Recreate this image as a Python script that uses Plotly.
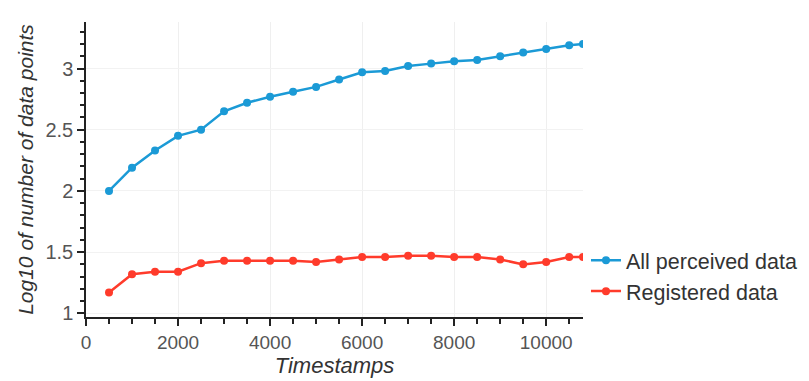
import plotly.graph_objects as go

timestamps = [500, 1000, 1500, 2000, 2500, 3000, 3500, 4000, 4500, 5000, 5500,
              6000, 6500, 7000, 7500, 8000, 8500, 9000, 9500, 10000, 10500, 10800]
all_perceived = [2.00, 2.19, 2.33, 2.45, 2.50, 2.65, 2.72, 2.77, 2.81, 2.85, 2.91,
                 2.97, 2.98, 3.02, 3.04, 3.06, 3.07, 3.10, 3.13, 3.16, 3.19, 3.20]
registered = [1.17, 1.32, 1.34, 1.34, 1.41, 1.43, 1.43, 1.43, 1.43, 1.42, 1.44,
              1.46, 1.46, 1.47, 1.47, 1.46, 1.46, 1.44, 1.40, 1.42, 1.46, 1.46]

BLUE = "#1b9ad6"
RED = "#ff3b2b"
FONT = "Liberation Sans, Arial, sans-serif"

fig = go.Figure()
fig.add_trace(go.Scatter(x=timestamps, y=all_perceived, mode="lines+markers",
                         name="All perceived data",
                         line=dict(color=BLUE, width=2.5),
                         marker=dict(color=BLUE, size=8)))
fig.add_trace(go.Scatter(x=timestamps, y=registered, mode="lines+markers",
                         name="Registered data",
                         line=dict(color=RED, width=2.5),
                         marker=dict(color=RED, size=8)))

# page body has an 8px default margin, so the figure is sized/offset to compensate
fig.update_layout(
    width=801, height=373,
    margin=dict(l=78, r=226, t=14, b=64, autoexpand=False),
    paper_bgcolor="white", plot_bgcolor="white",
    font=dict(family=FONT, color="#444", size=19),
    legend=dict(x=1.006, y=0.14, xanchor="left", yanchor="middle",
                font=dict(size=21.5, color="#333"), bgcolor="rgba(0,0,0,0)",
                tracegroupgap=0, itemwidth=30),
    showlegend=True,
)
fig.update_xaxes(
    range=[0, 10800], dtick=2000, tick0=0, tickformat="d",
    showline=True, linecolor="#222", linewidth=1.5,
    ticks="outside", ticklen=7, tickcolor="#222", tickwidth=1.5,
    minor=dict(dtick=500, ticks="outside", ticklen=5, tickcolor="#222", showgrid=False),
    showgrid=True, gridcolor="#efefef", zeroline=False, automargin=False,
    tickfont=dict(size=19, color="#555"),
    title=dict(text="<i>Timestamps</i>", font=dict(size=22, color="#333"), standoff=4),
)
fig.update_yaxes(
    range=[0.97, 3.38], dtick=0.5, tick0=0,
    showline=True, linecolor="#222", linewidth=1.5,
    ticks="outside", ticklen=7, tickcolor="#222", tickwidth=1.5,
    minor=dict(dtick=0.1, ticks="outside", ticklen=4, tickcolor="#222", showgrid=False),
    showgrid=True, gridcolor="#f2f2f2", zeroline=False, automargin=False,
    tickfont=dict(size=20, color="#555"),
    title=dict(text="<i>Log10 of number of data points</i>", font=dict(size=21, color="#333"), standoff=6),
)

fig.write_html("out.html")
